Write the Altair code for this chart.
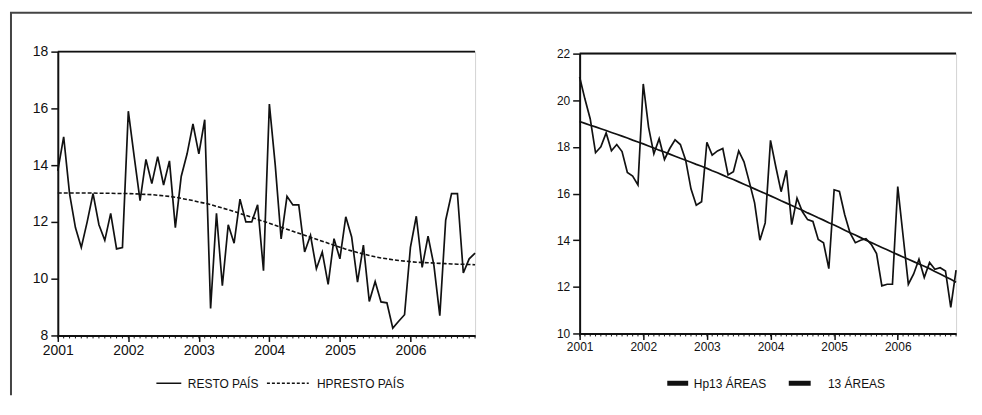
import altair as alt
import pandas as pd

# ---------------- data (monthly, Jan 2001 - Dec 2006) ----------------
years = [2001, 2002, 2003, 2004, 2005, 2006]
months = list(range(72))

resto_pais = [13.8, 15.0, 13.0, 11.8, 11.1, 12.0, 13.0, 11.9, 11.35, 12.3, 11.05, 11.1,
              15.9, 14.3, 12.75, 14.2, 13.35, 14.3, 13.3, 14.15, 11.8, 13.6, 14.4, 15.45,
              14.4, 15.6, 8.95, 12.3, 9.75, 11.9, 11.25, 12.8, 12.0, 12.0, 12.6, 10.28,
              16.15, 14.0, 11.4, 12.9, 12.6, 12.6, 10.94, 11.53, 10.35, 10.94, 9.8, 11.41,
              10.7, 12.18, 11.47, 9.88, 11.18, 9.2, 9.9, 9.18, 9.15, 8.26, 8.5, 8.73,
              11.1, 12.2, 10.4, 11.5, 10.47, 8.7, 12.06, 13.0, 13.0, 10.2, 10.7, 10.9]

hp_resto_pais = [13.02, 13.02, 13.02, 13.02, 13.02, 13.02, 13.02, 13.01, 13.01, 13.01, 13.00, 13.00,
                 13.00, 12.99, 12.98, 12.97, 12.96, 12.94, 12.92, 12.90, 12.87, 12.83, 12.79, 12.75,
                 12.70, 12.66, 12.61, 12.55, 12.49, 12.43, 12.37, 12.30, 12.23, 12.16, 12.09, 12.02,
                 11.95, 11.88, 11.81, 11.74, 11.67, 11.60, 11.53, 11.46, 11.39, 11.32, 11.25, 11.18,
                 11.11, 11.04, 10.98, 10.92, 10.87, 10.82, 10.77, 10.73, 10.70, 10.67, 10.64, 10.62,
                 10.60, 10.58, 10.57, 10.56, 10.55, 10.54, 10.53, 10.52, 10.51, 10.51, 10.50, 10.49]

areas_13 = [21.0, 20.05, 19.2, 17.75, 18.0, 18.6, 17.83, 18.1, 17.8, 16.9, 16.75, 16.37,
            20.7, 18.85, 17.7, 18.35, 17.46, 17.93, 18.3, 18.1, 17.43, 16.2, 15.5, 15.65,
            18.2, 17.65, 17.83, 17.93, 16.8, 16.94, 17.83, 17.36, 16.5, 15.6, 14.0, 14.74,
            18.28, 17.15, 16.08, 17.0, 14.67, 15.8, 15.23, 14.88, 14.8, 14.03, 13.89, 12.78,
            16.16, 16.09, 15.09, 14.31, 13.89, 14.0, 14.06, 13.82, 13.43, 12.04, 12.11, 12.11,
            16.3, 14.2, 12.11, 12.55, 13.18, 12.4, 13.04, 12.75, 12.82, 12.68, 11.12, 12.72]

hp_areas_13 = [19.09, 19.01, 18.93, 18.86, 18.78, 18.70, 18.62, 18.54, 18.46, 18.38, 18.29, 18.21,
               18.13, 18.04, 17.95, 17.86, 17.78, 17.69, 17.60, 17.51, 17.43, 17.34, 17.25, 17.17,
               17.08, 16.98, 16.89, 16.79, 16.69, 16.60, 16.50, 16.40, 16.30, 16.20, 16.10, 16.00,
               15.90, 15.80, 15.69, 15.59, 15.49, 15.38, 15.28, 15.17, 15.07, 14.96, 14.86, 14.75,
               14.65, 14.54, 14.43, 14.32, 14.22, 14.11, 14.00, 13.90, 13.79, 13.69, 13.59, 13.48,
               13.38, 13.28, 13.18, 13.08, 12.98, 12.88, 12.78, 12.66, 12.55, 12.43, 12.32, 12.20]

left_labels = ["RESTO PAÍS", "HPRESTO PAÍS"]
right_labels = ["Hp13 ÁREAS", "13 ÁREAS"]
left_y_ticks = [8, 10, 12, 14, 16, 18]
right_y_ticks = [10, 12, 14, 16, 18, 20, 22]

# time position of every month (fraction of year)
t = [2001 + m / 12 for m in months]
df = pd.DataFrame({"t": t, "resto": resto_pais, "hp": hp_resto_pais,
                   "a13": areas_13, "hp13": hp_areas_13})
one = pd.DataFrame({"k": [0]})

FONT = "Liberation Sans"
INK = "#111111"
W1, H1 = 419, 285
W2, H2 = 378, 281


def xenc(size):
    return alt.X("t:Q", scale=alt.Scale(domain=[2001, t[-1]], nice=False, zero=False),
                 axis=alt.Axis(values=years, format="d", title=None, grid=False,
                               tickSize=6, tickWidth=1.5, tickColor=INK,
                               domainColor=INK, domainWidth=2,
                               labelFont=FONT, labelFontSize=size, labelColor=INK,
                               labelFlush=False, labelOverlap=False, labelPadding=2))


def yenc(field, dom, vals, size):
    return alt.Y(field + ":Q", scale=alt.Scale(domain=dom, nice=False, zero=False),
                 axis=alt.Axis(values=vals, title=None, grid=False,
                               tickSize=7, tickWidth=1.5, tickColor=INK,
                               domainColor=INK, domainWidth=2,
                               labelFont=FONT, labelFontSize=size, labelColor=INK,
                               labelPadding=3))


def hrule(x1, x2, y, width=1.6, dash=None, color=INK):
    kw = dict(color=color, strokeWidth=width)
    if dash:
        kw["strokeDash"] = dash
    return alt.Chart(one).mark_rule(**kw).encode(
        x=alt.value(x1), x2=alt.value(x2), y=alt.value(y))


def vrule(x, y1, y2, width=2, color="#444444"):
    return alt.Chart(one).mark_rule(color=color, strokeWidth=width).encode(
        x=alt.value(x), y=alt.value(y1), y2=alt.value(y2))


def label(txt, cx, y, size):
    return alt.Chart(one).mark_text(text=txt, align="center", baseline="alphabetic",
                                    font=FONT, fontSize=size, color=INK).encode(
        x=alt.value(cx), y=alt.value(y))


def month_ticks(h):
    return alt.Chart(df).mark_rule(color=INK, strokeWidth=1).encode(
        x=alt.X("t:Q"), y=alt.value(h), y2=alt.value(h + 3))


# ---------------- left panel (origin at page 56,50) ----------------
baseL = alt.Chart(df).encode(x=xenc(14))
resto_line = baseL.mark_line(color=INK, strokeWidth=1.7).encode(
    y=yenc("resto", [8, 18], left_y_ticks, 14))
hp_line = baseL.mark_line(color=INK, strokeWidth=1.6, strokeDash=[4, 2]).encode(
    y=alt.Y("hp:Q"))

left = alt.layer(
    resto_line, hp_line, month_ticks(H1),
    hrule(0, W1, 0, width=2),
    # legend
    hrule(99, 124, 333, width=1.5),
    label(left_labels[0], 166, 338, 12),
    hrule(210, 252, 333, width=1.5, dash=[3, 2]),
    label(left_labels[1], 304, 338, 12),
    # outer frame (left edge)
    vrule(-47, -39, 345),
).properties(width=W1, height=H1)

# ---------------- right panel (origin at page 580,52) ----------------
baseR = alt.Chart(df).encode(x=xenc(12))
a13_line = baseR.mark_line(color=INK, strokeWidth=1.7).encode(
    y=yenc("a13", [10, 22], right_y_ticks, 12))
hp13_line = baseR.mark_line(color=INK, strokeWidth=1.7).encode(y=alt.Y("hp13:Q"))

right = alt.layer(
    a13_line, hp13_line, month_ticks(H2),
    hrule(0, W2, 0, width=2),
    hrule(88, 109, 331, width=5),
    label(right_labels[0], 151, 336, 12),
    hrule(210, 232, 331, width=5),
    label(right_labels[1], 278, 336, 12),
    # outer frame (top edge)
    hrule(-572, 394, -41, width=2, color="#444444"),
).properties(width=W2, height=H2)

chart = alt.hconcat(left, right, spacing=105, bounds="flush", center=True).properties(
    padding={"left": 0, "top": 2, "right": 0, "bottom": 0},
    autosize=alt.AutoSizeParams(type="pad"),
    background="white",
).configure_view(stroke="#d4d4d4", strokeWidth=1)

chart.save("out.html", embed_options={"renderer": "svg", "actions": False})
